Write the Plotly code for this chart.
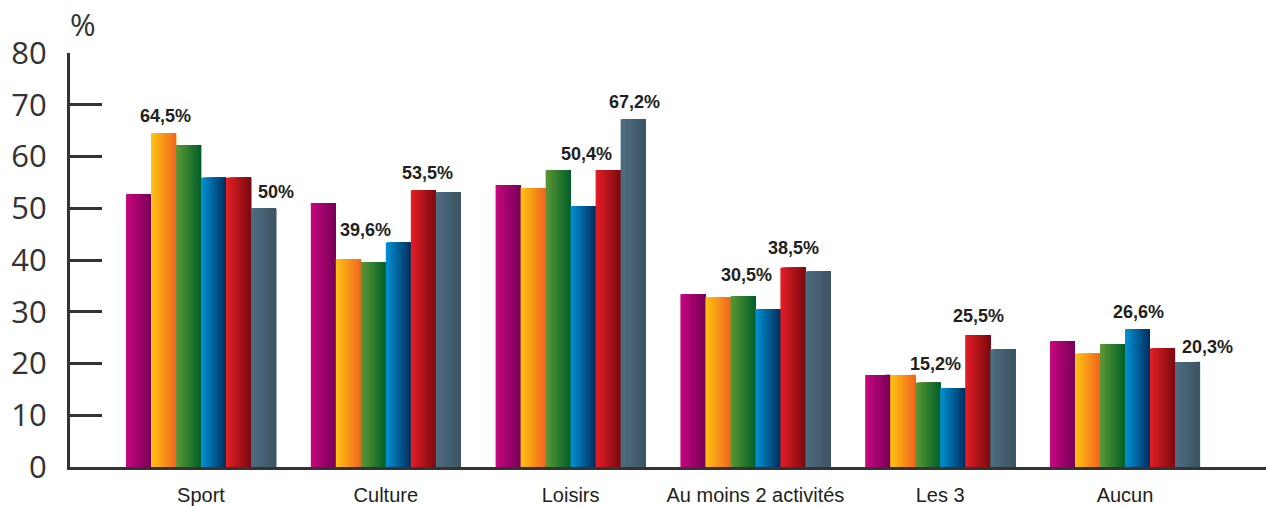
import plotly.graph_objects as go

# Activity categories (x axis)
categories = ["Sport", "Culture", "Loisirs", "Au moins 2 activités", "Les 3", "Aucun"]

# Percentages per series, one value per category
serie_1 = [52.7, 51.0, 54.5, 33.4, 17.8, 24.3]
serie_2 = [64.5, 40.2, 53.9, 32.8, 17.8, 21.9]
serie_3 = [62.2, 39.6, 57.4, 33.0, 16.3, 23.7]
serie_4 = [55.9, 43.4, 50.4, 30.5, 15.2, 26.6]
serie_5 = [55.9, 53.5, 57.4, 38.5, 25.5, 22.9]
serie_6 = [50.0, 53.1, 67.2, 37.8, 22.7, 20.3]

y_ticks = [0, 10, 20, 30, 40, 50, 60, 70, 80]

series = [serie_1, serie_2, serie_3, serie_4, serie_5, serie_6]

# Horizontal gradient (left colour, right colour) for each series
gradients = [
    ("#C7087F", "#780058"),
    ("#FEC412", "#F2661F"),
    ("#5F9834", "#00602A"),
    ("#0093D5", "#002E5E"),
    ("#E61E27", "#7A0A0F"),
    ("#4E6D81", "#3D5463"),
]

# Bars that carry a value label: (category index, series index, x shift px, gap px)
labelled = [
    (0, 1, 2, 10), (0, 5, 12, 9),
    (1, 2, -8, 25), (1, 4, 4, 10),
    (2, 3, 3, 45), (2, 5, 1, 10),
    (3, 3, -21, 27), (3, 4, 1, 13),
    (4, 3, -17, 17), (4, 4, 1, 12),
    (5, 3, 1, 10), (5, 5, 20, 8),
]


def hex_to_rgb(h):
    h = h.lstrip("#")
    return tuple(int(h[i:i + 2], 16) for i in (0, 2, 4))


def mix(c1, c2, t):
    a, b = hex_to_rgb(c1), hex_to_rgb(c2)
    r = [round(a[k] + (b[k] - a[k]) * t) for k in range(3)]
    return f"rgb({r[0]},{r[1]},{r[2]})"


def fmt(v):
    if float(v).is_integer():
        return f"{int(v)}%"
    return f"{v:.1f}".replace(".", ",") + "%"


BAR_W = 0.1353           # width of one bar in category units
GROUP_W = BAR_W * len(series)
SLICES = 24              # vertical slices used to paint the gradient

fig = go.Figure()
for s, values in enumerate(series):
    left = -GROUP_W / 2 + s * BAR_W
    c_left, c_right = gradients[s]
    dw = BAR_W / SLICES
    for j in range(SLICES):
        fig.add_trace(go.Bar(
            x=categories,
            y=values,
            offset=left + j * dw,
            width=BAR_W - j * dw,
            marker=dict(color=mix(c_left, c_right, (j + 0.5) / SLICES), line=dict(width=0)),
            showlegend=False,
            hoverinfo="skip" if j else "y",
            name=f"Série {s + 1}",
        ))

for cat, s, dx, gap in labelled:
    v = series[s][cat]
    fig.add_annotation(
        x=cat - GROUP_W / 2 + (s + 0.5) * BAR_W,
        y=v,
        xref="x", yref="y",
        text=f"<b>{fmt(v)}</b>",
        showarrow=False,
        xanchor="center", yanchor="bottom",
        xshift=dx, yshift=gap - 5,
        font=dict(family="Liberation Sans, Arial, sans-serif", size=18, color="#231F20"),
    )

fig.add_annotation(
    x=0, y=1, xref="paper", yref="paper",
    text="%", showarrow=False,
    xanchor="left", yanchor="bottom", xshift=-2, yshift=6,
    font=dict(family="Open Sans, sans-serif", size=31, color="#333333"),
)

fig.update_layout(
    width=1266, height=506,
    margin=dict(l=70, r=0, t=53, b=39),
    paper_bgcolor="white", plot_bgcolor="white",
    barmode="overlay",
    xaxis=dict(
        type="category",
        range=[-0.709, 5.763],
        showline=True, linewidth=3, linecolor="#333333",
        layer="below traces",
        showgrid=False, ticks="",
        tickfont=dict(family="Liberation Sans, Arial, sans-serif", size=20, color="#231F20"),
        ticklabelstandoff=8,
    ),
    yaxis=dict(
        range=[0, 80],
        tickvals=y_ticks,
        ticktext=[str(t) for t in y_ticks],
        showline=True, linewidth=3, linecolor="#333333",
        ticks="inside", ticklen=32, tickwidth=3, tickcolor="#333333",
        showgrid=False, zeroline=False,
        tickfont=dict(family="Open Sans, sans-serif", size=31, color="#333333"),
        ticklabelstandoff=14,
    ),
)

fig.write_html("out.html")
